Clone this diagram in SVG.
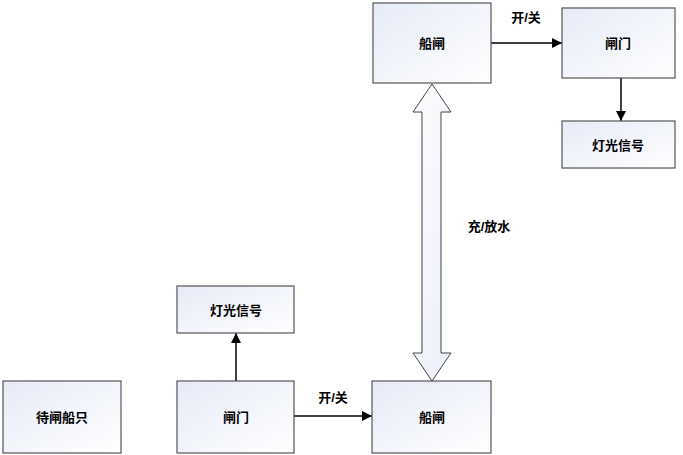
<svg xmlns="http://www.w3.org/2000/svg" width="683" height="455" viewBox="0 0 683 455">
<defs>
<linearGradient id="g" x1="0" y1="0" x2="1" y2="1">
<stop offset="0" stop-color="#e6ebf7"/>
<stop offset="1" stop-color="#ffffff"/>
</linearGradient>
<linearGradient id="ga" x1="0" y1="0" x2="1" y2="1">
<stop offset="0" stop-color="#ffffff"/>
<stop offset="1" stop-color="#e9edf8"/>
</linearGradient>
<marker id="ah" viewBox="0 0 10 10" refX="10" refY="5" markerWidth="10" markerHeight="10" markerUnits="userSpaceOnUse" orient="auto">
<path d="M0,0 L10,5 L0,10 Z" fill="#000"/>
</marker>
<style>
.box{fill:url(#g);stroke:#555;stroke-width:1.2}
.t{font-family:"Liberation Sans","Noto Sans CJK SC",sans-serif;font-size:13px;font-weight:bold;fill:#000;text-anchor:middle;dominant-baseline:central}
.c{stroke:#000;stroke-width:1.5;fill:none}
</style>
</defs>
<rect width="683" height="455" fill="#fff"/>
<g id="connectors">
<line class="c" x1="491" y1="43" x2="562" y2="43" marker-end="url(#ah)"/>
<line class="c" x1="621" y1="78" x2="621" y2="121" marker-end="url(#ah)"/>
<line class="c" x1="236" y1="381" x2="236" y2="333" marker-end="url(#ah)"/>
<line class="c" x1="294" y1="416" x2="372" y2="416" marker-end="url(#ah)"/>
<path d="M432,84 L451,112 L441,112 L441,353 L451,353 L432,381 L413,353 L422,353 L422,112 L413,112 Z" fill="url(#ga)" stroke="#444" stroke-width="1"/>
<text class="t" x="526" y="17">开/关</text>
<text class="t" x="333" y="397">开/关</text>
<text class="t" x="489" y="226">充/放水</text>
</g>
<g id="n1"><rect class="box" x="373" y="3" width="118" height="80"/><text class="t" x="432" y="43">船闸</text></g>
<g id="n2"><rect class="box" x="562" y="8" width="113" height="70"/><text class="t" x="618" y="43">闸门</text></g>
<g id="n3"><rect class="box" x="562" y="121" width="113" height="47"/><text class="t" x="618" y="145">灯光信号</text></g>
<g id="n4"><rect class="box" x="3" y="381" width="118" height="72"/><text class="t" x="62" y="417">待闸船只</text></g>
<g id="n5"><rect class="box" x="177" y="381" width="117" height="72"/><text class="t" x="236" y="417">闸门</text></g>
<g id="n6"><rect class="box" x="177" y="286" width="117" height="47"/><text class="t" x="236" y="310">灯光信号</text></g>
<g id="n7"><rect class="box" x="372" y="381" width="119" height="72"/><text class="t" x="432" y="417">船闸</text></g>
</svg>
